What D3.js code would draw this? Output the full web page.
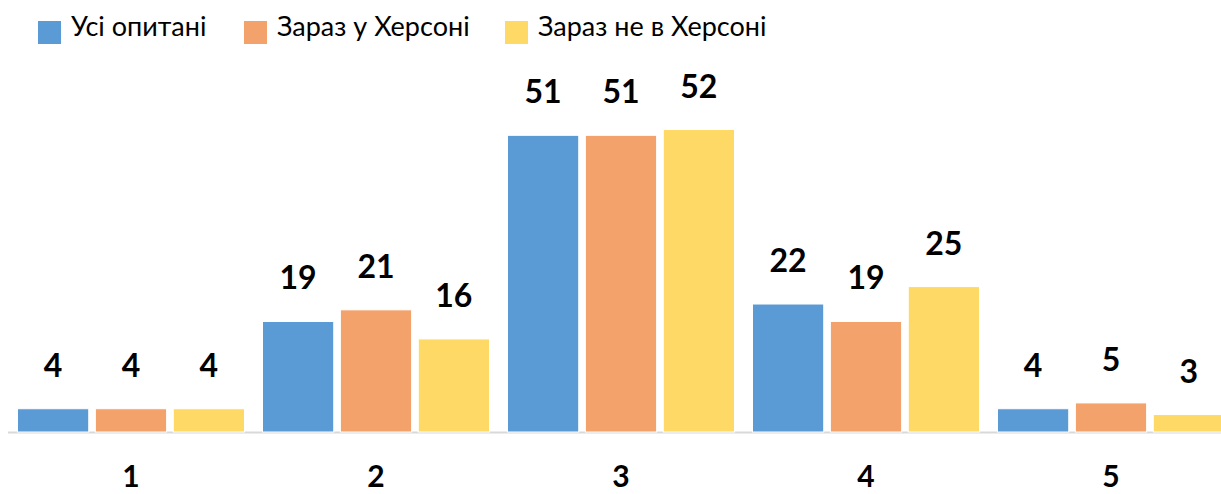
<!DOCTYPE html>
<html>
<head>
<meta charset="utf-8">
<script src="https://cdn.jsdelivr.net/npm/d3@7"></script>
<style>
  body { margin: 0; background: #fff; }
  svg { display: block; }
</style>
</head>
<body>
<svg id="chart" width="1221" height="494"></svg>
<script>
    // data
    var categories = ['1', '2', '3', '4', '5'];
    var seriesNames = ['Усі опитані', 'Зараз у Херсоні', 'Зараз не в Херсоні'];
    var allRespondents = [4, 19, 51, 22, 4];
    var inKherson = [4, 21, 51, 19, 5];
    var notInKherson = [4, 16, 52, 25, 3];
    var colors = ['#5B9BD5', '#F4A26B', '#FFD966'];

    var series = [allRespondents, inKherson, notInKherson];

    var width = 1221, height = 494
        , margin = {left: 8.5, right: -12.5, top: 0}
        , baseline = 432
        ;

    var svg = d3.select('#chart');

    var x0 = d3.scaleBand()
        .domain(categories)
        .range([margin.left, width - margin.right])
        .paddingInner(0)
        .paddingOuter(0);

    var x1 = d3.scaleBand()
        .domain(d3.range(series.length))
        .range([9, x0.bandwidth() - 9])
        .paddingInner(0.085);

    var y = d3.scaleLinear()
        .domain([0, 52])
        .range([baseline, baseline - 302.5]);

    // axis line
    svg.append('line')
        .attr('x1', 8).attr('x2', width)
        .attr('y1', baseline + 0.5).attr('y2', baseline + 0.5)
        .attr('stroke', '#D9D9D9')
        .attr('stroke-width', 2);

    var groups = svg.selectAll('g.group')
        .data(categories)
        .enter().append('g')
        .attr('class', 'group')
        .attr('transform', function(d) { return 'translate(' + x0(d) + ',0)'; });

    groups.selectAll('rect')
        .data(function(d, i) { return series.map(function(s, j) { return {s: j, v: s[i]}; }); })
        .enter().append('rect')
        .attr('x', function(d) { return x1(d.s); })
        .attr('y', function(d) { return y(d.v); })
        .attr('width', x1.bandwidth())
        .attr('height', function(d) { return baseline - y(d.v); })
        .attr('fill', function(d) { return colors[d.s]; })
        .attr('stroke', '#fff')
        .attr('stroke-width', 1);

    groups.selectAll('text.val')
        .data(function(d, i) { return series.map(function(s, j) { return {s: j, v: s[i]}; }); })
        .enter().append('text')
        .attr('class', 'val')
        .attr('x', function(d) { return x1(d.s) + x1.bandwidth() / 2; })
        .attr('y', function(d) { return y(d.v) - 32; })
        .attr('text-anchor', 'middle')
        .style('font-family', 'Lato, "Open Sans", sans-serif')
        .style('font-weight', 'bold')
        .style('font-size', '32px')
        .attr('fill', '#000')
        .text(function(d) { return d.v; });

    // category labels
    svg.selectAll('text.cat')
        .data(categories)
        .enter().append('text')
        .attr('class', 'cat')
        .attr('x', function(d) { return x0(d) + x0.bandwidth() / 2; })
        .attr('y', 487)
        .attr('text-anchor', 'middle')
        .style('font-family', 'Lato, "Open Sans", sans-serif')
        .style('font-weight', 'bold')
        .style('font-size', '30px')
        .text(function(d) { return d; });

    // legend
    var legendX = [38, 244, 505];
    var legend = svg.selectAll('g.legend')
        .data(seriesNames)
        .enter().append('g')
        .attr('class', 'legend')
        .attr('transform', function(d, i) { return 'translate(' + legendX[i] + ',21)'; });

    legend.append('rect')
        .attr('width', 23).attr('height', 23)
        .attr('fill', function(d, i) { return colors[i]; });

    legend.append('text')
        .attr('x', 33)
        .attr('y', 15)
        .style('font-family', 'Lato, "Open Sans", sans-serif')
        .style('font-size', '27px')
        .attr('fill', '#000')
        .text(function(d) { return d; });
</script>
</body>
</html>
